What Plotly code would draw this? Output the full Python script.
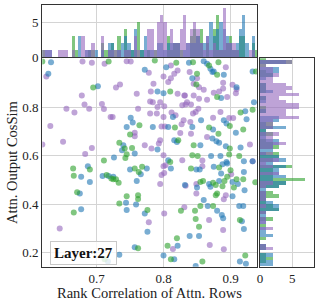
import plotly.graph_objects as go

# ---- data ----
purple_x = [0.679,0.693,0.712,0.625,0.678,0.682,0.708,0.655,0.689,0.711,0.667,0.721,0.631,0.619,0.650,0.693,0.683,
            0.745,0.778,0.811,0.821,0.816,0.811,0.807,0.800,0.785,0.729,0.735,0.760,0.781,0.821,0.832,0.780,0.784,0.795,
            0.791,0.801,0.762,0.828,0.833,0.780,0.790,0.800,0.812,0.818,0.830,0.827,0.724,0.797,0.802,0.757,0.757,0.825,
            0.795,0.772,0.793,0.782,0.800,0.893,0.839,0.850,0.845,0.853,0.860,0.889,0.903,0.909,0.875,0.883,0.889,0.895,
            0.908,0.831,0.835,0.841,0.845,0.853,0.852,0.848,0.844,0.865,0.885,0.874,0.898,0.904,0.840,0.841,0.865,0.929,
            0.858,0.933,0.645,0.800,0.803,0.797,0.801,0.795,0.828,0.801,0.831,0.778,0.814,0.858,0.901,0.833,0.849,0.849,
            0.893,0.890,0.868,0.889,0.869,0.890,0.751]
purple_y = [0.989,0.984,0.979,0.927,0.848,0.811,0.813,0.794,0.794,0.793,0.778,0.760,0.723,0.646,0.658,0.632,0.607,
            0.990,0.942,0.972,0.952,0.938,0.920,0.904,0.927,0.897,0.881,0.894,0.856,0.865,0.856,0.849,0.824,0.821,0.821,
            0.801,0.804,0.794,0.808,0.811,0.774,0.774,0.760,0.778,0.767,0.746,0.730,0.760,0.721,0.721,0.695,0.680,0.694,
            0.664,0.643,0.650,0.630,0.602,0.965,0.945,0.920,0.897,0.883,0.872,0.901,0.893,0.874,0.860,0.865,0.877,0.842,
            0.858,0.849,0.821,0.811,0.849,0.835,0.794,0.780,0.774,0.831,0.780,0.757,0.756,0.756,0.739,0.691,0.677,0.646,
            0.580,0.577,0.300,0.557,0.561,0.520,0.529,0.483,0.581,0.362,0.387,0.325,0.215,0.557,0.524,0.476,0.483,0.444,
            0.437,0.420,0.335,0.293,0.232,0.214,0.989]

blue_x = [0.632,0.628,0.702,0.726,0.772,0.804,0.791,0.800,0.814,0.751,0.754,0.745,0.784,0.807,0.816,0.820,0.740,0.791,
          0.738,0.757,0.807,0.838,0.860,0.865,0.870,0.875,0.873,0.890,0.933,0.935,0.843,0.909,0.886,0.856,0.922,0.924,
          0.890,0.894,0.843,0.874,0.908,0.873,0.879,0.883,0.855,0.893,0.915,0.871,0.885,0.894,0.920,0.687,0.677,0.690,
          0.675,0.677,0.709,0.718,0.717,0.725,0.750,0.775,0.766,0.760,0.811,0.832,0.744,0.759,0.745,0.772,0.776,0.757,
          0.821,0.734,0.800,0.816,0.849,0.854,0.875,0.888,0.895,0.886,0.903,0.911,0.920,0.850,0.868,0.870,0.883,0.903,
          0.921,0.933,0.860,0.866,0.880,0.887,0.889,0.913,0.919,0.917,0.920,0.839,0.853,0.914,0.923,0.848]
blue_y = [0.986,0.938,0.887,0.593,0.955,0.965,0.865,0.858,0.760,0.757,0.737,0.719,0.719,0.719,0.664,0.657,0.643,0.626,
          0.623,0.609,0.581,0.984,0.990,0.979,0.959,0.948,0.945,0.934,0.948,0.821,0.920,0.883,0.838,0.746,0.783,0.750,
          0.746,0.733,0.719,0.708,0.695,0.671,0.660,0.654,0.643,0.639,0.634,0.599,0.599,0.574,0.577,0.557,0.513,0.492,
          0.444,0.379,0.516,0.516,0.163,0.513,0.543,0.547,0.524,0.496,0.547,0.479,0.406,0.399,0.376,0.362,0.286,0.222,
          0.228,0.191,0.188,0.173,0.543,0.543,0.554,0.565,0.568,0.527,0.492,0.483,0.533,0.469,0.483,0.472,0.496,0.433,
          0.458,0.577,0.417,0.392,0.373,0.355,0.342,0.393,0.393,0.330,0.298,0.269,0.269,0.163,0.154,0.145]

green_x = [0.619,0.718,0.695,0.711,0.787,0.819,0.810,0.764,0.817,0.750,0.822,0.734,0.742,0.753,0.745,0.743,0.810,
           0.844,0.868,0.880,0.882,0.850,0.849,0.938,0.880,0.915,0.933,0.899,0.868,0.882,0.919,0.845,0.899,0.843,0.851,
           0.898,0.913,0.665,0.690,0.666,0.671,0.666,0.715,0.722,0.725,0.712,0.729,0.733,0.757,0.768,0.763,0.745,0.762,
           0.762,0.734,0.776,0.826,0.820,0.762,0.806,0.811,0.841,0.883,0.900,0.895,0.909,0.919,0.855,0.859,0.878,0.874,
           0.888,0.891,0.880,0.878,0.905,0.937,0.855,0.874,0.847,0.848,0.914,0.853,0.922,0.858]
green_y = [0.989,0.989,0.881,0.580,0.993,0.984,0.865,0.726,0.716,0.688,0.664,0.653,0.630,0.632,0.606,0.591,0.574,
           0.986,0.972,0.934,0.986,0.938,0.894,0.948,0.842,0.778,0.790,0.723,0.716,0.691,0.708,0.643,0.630,0.602,0.599,
           0.605,0.599,0.547,0.543,0.517,0.449,0.366,0.520,0.506,0.503,0.173,0.503,0.488,0.547,0.554,0.533,0.433,0.437,
           0.421,0.403,0.376,0.373,0.259,0.218,0.228,0.173,0.547,0.551,0.540,0.513,0.503,0.503,0.492,0.496,0.479,0.488,
           0.474,0.496,0.444,0.437,0.469,0.490,0.393,0.392,0.373,0.339,0.335,0.307,0.188,0.163]

series = [("purple", purple_x, purple_y, "#9467bd"),
          ("blue", blue_x, blue_y, "#1f77b4"),
          ("green", green_x, green_y, "#2ca02c")]

x_range = [0.619, 0.940]
y_range = [0.142, 1.002]
top_range = [0, 7.5]
right_range = [0, 8.4]

FONT = "Liberation Serif"
W, H = 319, 305

def px(v):
    return v / W
def py(v):
    return 1 - v / H

fig = go.Figure()
for name, xs, ys, col in series:
    fig.add_trace(go.Scatter(x=xs, y=ys, mode="markers", name=name,
                             marker=dict(color=col, size=6, opacity=0.6, line=dict(width=0)),
                             xaxis="x", yaxis="y", showlegend=False, cliponaxis=True))
for name, xs, ys, col in reversed(series):
    fig.add_trace(go.Histogram(x=xs, xbins=dict(start=0.619, end=0.95, size=0.0049),
                               marker=dict(color=col, line=dict(width=0)), opacity=0.6,
                               xaxis="x2", yaxis="y2", showlegend=False))
    fig.add_trace(go.Histogram(y=ys, ybins=dict(start=0.142, end=1.01, size=0.0135),
                               marker=dict(color=col, line=dict(width=0)), opacity=0.6,
                               xaxis="x3", yaxis="y3", showlegend=False))

grid = "#d4d4d4"
frame = "#333333"
tickfont = dict(family=FONT, size=13, color="#222")
common = dict(showgrid=True, gridcolor=grid, gridwidth=1, zeroline=False,
              showline=True, linecolor=frame, linewidth=1.2, mirror=True,
              ticks="", tickfont=tickfont, automargin=False)

xd = [px(42.3), px(257.3)]
yd = [py(266.7), py(58.3)]
fig.update_layout(
    width=W, height=H, margin=dict(l=0, r=0, t=0, b=0, autoexpand=False),
    paper_bgcolor="white", plot_bgcolor="white", barmode="overlay", bargap=0,
    xaxis=dict(domain=xd, range=x_range, tickvals=[0.7, 0.8, 0.9], ticktext=["0.7", "0.8", "0.9"], **common),
    yaxis=dict(domain=yd, range=y_range, tickvals=[0.2, 0.4, 0.6, 0.8], ticktext=["0.2", "0.4", "0.6", "0.8"], **common),
    xaxis2=dict(domain=xd, range=x_range, anchor="y2", tickvals=[0.7, 0.8, 0.9], showticklabels=False, **common),
    yaxis2=dict(domain=[py(57.3), py(5)], range=top_range, anchor="x2", tickvals=[0, 5], **common),
    xaxis3=dict(domain=[px(260), px(314)], range=right_range, anchor="y3", tickvals=[0, 5], **common),
    yaxis3=dict(domain=yd, range=y_range, anchor="x3", tickvals=[0.2, 0.4, 0.6, 0.8], showticklabels=False, **common),
    annotations=[
        dict(text="Rank Correlation of Attn. Rows", x=px(149.7), y=py(292.5), xref="paper", yref="paper",
             showarrow=False, font=dict(family=FONT, size=14.5, color="#222"), xanchor="center", yanchor="middle"),
        dict(text="Attn. Output CosSim", x=px(12), y=py(162), xref="paper", yref="paper", textangle=-90,
             showarrow=False, font=dict(family=FONT, size=14.5, color="#222"), xanchor="center", yanchor="middle"),
        dict(text="<b>Layer:27</b>", x=px(83.7), y=py(252.5), xref="paper", yref="paper",
             showarrow=False, font=dict(family=FONT, size=15, color="#111"), xanchor="center", yanchor="middle",
             bgcolor="rgba(255,255,255,0.8)", bordercolor="#c8c8c8", borderwidth=1, borderpad=3),
    ],
)

# remove the browser's default 8px body margin so the figure sits at the page origin
fig.write_html("out.html", config={"displayModeBar": False},
               post_script="document.body.style.margin='0';document.body.style.overflow='hidden';")
